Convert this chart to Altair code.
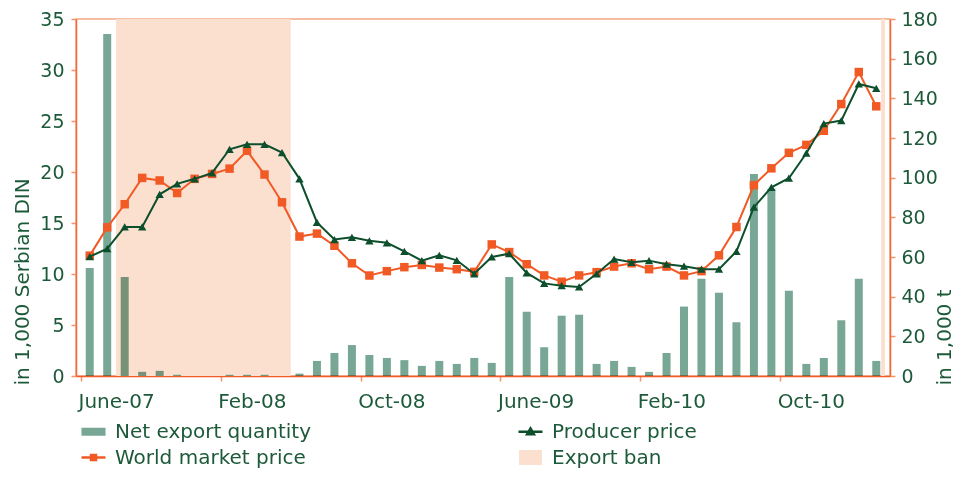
import altair as alt
import pandas as pd

# ---- data ----
months = list(range(46))  # June-07 ... March-11
net_export = [54.5, 172.5, 49.9, 2.1, 2.6, 0.6, 0.0, 0.0, 0.6, 0.6,
              0.6, 0.0, 1.2, 7.6, 11.6, 15.6, 10.6, 9.1, 8.0, 5.1,
              7.6, 6.1, 9.1, 6.6, 49.9, 32.4, 14.5, 30.4, 30.9, 6.1,
              7.6, 4.6, 2.1, 11.6, 35.0, 49.0, 42.0, 27.1, 101.8, 94.4,
              43.0, 6.1, 9.1, 28.1, 49.0, 7.6]
world_price = [11.8, 14.57, 16.84, 19.42, 19.17, 17.94, 19.33, 19.81, 20.33, 22.08,
               19.75, 17.03, 13.67, 13.96, 12.77, 11.05, 9.85, 10.28, 10.67, 10.89,
               10.63, 10.47, 10.21, 12.9, 12.15, 10.96, 9.86, 9.24, 9.86, 10.18,
               10.73, 11.05, 10.47, 10.73, 9.86, 10.28, 11.83, 14.61, 18.71, 20.36,
               21.88, 22.66, 24.04, 26.66, 29.8, 26.44]
producer_price = [11.7, 12.48, 14.61, 14.61, 17.81, 18.84, 19.33, 19.91, 22.23, 22.72,
                  22.72, 21.91, 19.33, 15.06, 13.38, 13.6, 13.25, 13.06, 12.22, 11.31,
                  11.83, 11.34, 10.02, 11.67, 11.99, 10.11, 9.08, 8.85, 8.73, 10.02,
                  11.47, 11.15, 11.31, 10.96, 10.76, 10.47, 10.47, 12.22, 16.55, 18.49,
                  19.39, 21.84, 24.75, 25.04, 28.63, 28.21]

ban_start = [1.5, 45.28]
ban_end = [11.5, 45.5]

tick_months = [0, 8, 16, 24, 32, 40]
tick_labels = ["June-07", "Feb-08", "Oct-08", "June-09", "Feb-10", "Oct-10"]
left_ticks = [0, 5, 10, 15, 20, 25, 30, 35]
right_ticks = [0, 20, 40, 60, 80, 100, 120, 140, 160, 180]

# legend entries in reading order (two columns)
legend_labels = ["Net export quantity", "Producer price", "World market price", "Export ban"]

# ---- styles ----
FONT = "DejaVu Sans"
TEXT = "#1d5a3a"
BAR = "#78a895"
ORANGE = "#f15a24"
GREEN = "#0d4f2c"
AXIS = "#f26a3a"
AXIS_LIGHT = "#f5936a"
BORDER = "#f5a883"
SHADE = "#fbe0d0"
legend_colors = [BAR, GREEN, ORANGE, SHADE]
legend_shapes = [
    "M-0.48,-0.27H1.68V0.27H-0.48Z",
    "M-0.6,0H1.8M0.6,-0.34L0.94,0.24H0.26Z",
    "M-0.6,0H1.8M0.35,-0.25H0.85V0.25H0.35Z",
    "M-0.42,-0.62H1.62V0.62H-0.42Z",
]

df = pd.DataFrame({"i": months, "qty": net_export, "world": world_price,
                   "producer": producer_price})
ban = pd.DataFrame({"start": ban_start, "end": ban_end})
leg = pd.DataFrame({"item": legend_labels})

tick_pos = [m - 0.5 for m in tick_months]
labels_js = "[" + ",".join("'" + s + "'" for s in tick_labels) + "]"

xscale = alt.Scale(domain=[-0.5, 45.5], nice=False, zero=False)
xaxis = alt.Axis(values=tick_pos, labelExpr=labels_js + "[round((datum.value + 0.5) / 8)]",
                 labelAlign="left", labelOffset=-3, labelPadding=10, tickSize=5,
                 tickColor=AXIS_LIGHT, tickWidth=1.5, domainColor=ORANGE, domainWidth=1.5,
                 labelColor=TEXT, labelFontSize=20, labelFont=FONT, grid=False,
                 title=None, labelOverlap=False)

shade = alt.Chart(ban).mark_rect(color=SHADE, opacity=1).encode(
    x=alt.X("start:Q", scale=xscale, axis=xaxis),
    x2="end:Q",
)

bars = alt.Chart(df).mark_bar(size=8, color=BAR, blend="multiply").encode(
    x=alt.X("i:Q", scale=xscale, axis=xaxis),
    y=alt.Y("qty:Q", scale=alt.Scale(domain=[0, 180], nice=False),
            axis=alt.Axis(orient="right", values=right_ticks, title="in 1,000 t",
                          titleAngle=270, titleAlign="left", titleBaseline="middle",
                          titleX=54, titleY=366, titleFontSize=20, titleFont=FONT,
                          titleColor=TEXT, titleFontWeight="normal",
                          labelColor=TEXT, labelFontSize=19, labelFont=FONT,
                          labelPadding=6, tickSize=5, tickColor=AXIS_LIGHT,
                          tickWidth=1.5, domainColor=AXIS, domainWidth=1.5, grid=False)),
)

yleft = alt.Y("world:Q", scale=alt.Scale(domain=[0, 35], nice=False),
              axis=alt.Axis(orient="left", values=left_ticks, title="in 1,000 Serbian DIN",
                            titleAngle=270, titleAlign="left", titleBaseline="middle",
                            titleX=-54, titleY=366, titleFontSize=20, titleFont=FONT,
                            titleColor=TEXT, titleFontWeight="normal",
                            labelColor=TEXT, labelFontSize=19, labelFont=FONT,
                            labelPadding=7, tickSize=5, tickColor=AXIS_LIGHT,
                            tickWidth=1.5, domainColor=AXIS, domainWidth=1.5, grid=False))

world = alt.Chart(df).mark_line(
    color=ORANGE, strokeWidth=2,
    point=alt.OverlayMarkDef(shape="square", size=72, filled=True, color=ORANGE, opacity=1),
).encode(x=alt.X("i:Q", scale=xscale, axis=xaxis), y=yleft)

producer = alt.Chart(df).mark_line(
    color=GREEN, strokeWidth=2,
    point=alt.OverlayMarkDef(shape="triangle-up", size=70, filled=True, color=GREEN, opacity=1),
).encode(x=alt.X("i:Q", scale=xscale, axis=xaxis),
         y=alt.Y("producer:Q", scale=alt.Scale(domain=[0, 35], nice=False)))

lines = alt.layer(world, producer)

# ---- legend (drawn by Vega-Lite from an empty point layer) ----
legend_def = alt.Legend(title=None, orient="bottom", offset=9, columns=2,
                        columnPadding=202, rowPadding=4, labelOffset=16, padding=0,
                        symbolSize=400, symbolStrokeWidth=2.5, symbolOpacity=1,
                        labelFontSize=20, labelFont=FONT, labelColor=TEXT,
                        labelLimit=400)
leg_scale_c = alt.Scale(domain=legend_labels, range=legend_colors)
leg_scale_s = alt.Scale(domain=legend_labels, range=legend_shapes)
legend_layer = alt.Chart(leg).transform_filter("false").mark_point(
    filled=True, strokeWidth=2.5, opacity=1).encode(
    fill=alt.Fill("item:N", scale=leg_scale_c, legend=legend_def),
    stroke=alt.Stroke("item:N", scale=leg_scale_c, legend=legend_def),
    shape=alt.Shape("item:N", scale=leg_scale_s, legend=legend_def),
)

chart = alt.layer(shade, bars, lines, legend_layer).resolve_scale(y="independent").properties(
    width=949, height=461,
    autosize=alt.AutoSizeParams(type="fit", contains="padding"),
    padding={"left": 4, "top": 2, "right": 3, "bottom": 0},
).configure(font=FONT).configure_view(stroke=BORDER, strokeWidth=1.5)

chart.save("out.html", embed_options={"renderer": "svg", "actions": False})
